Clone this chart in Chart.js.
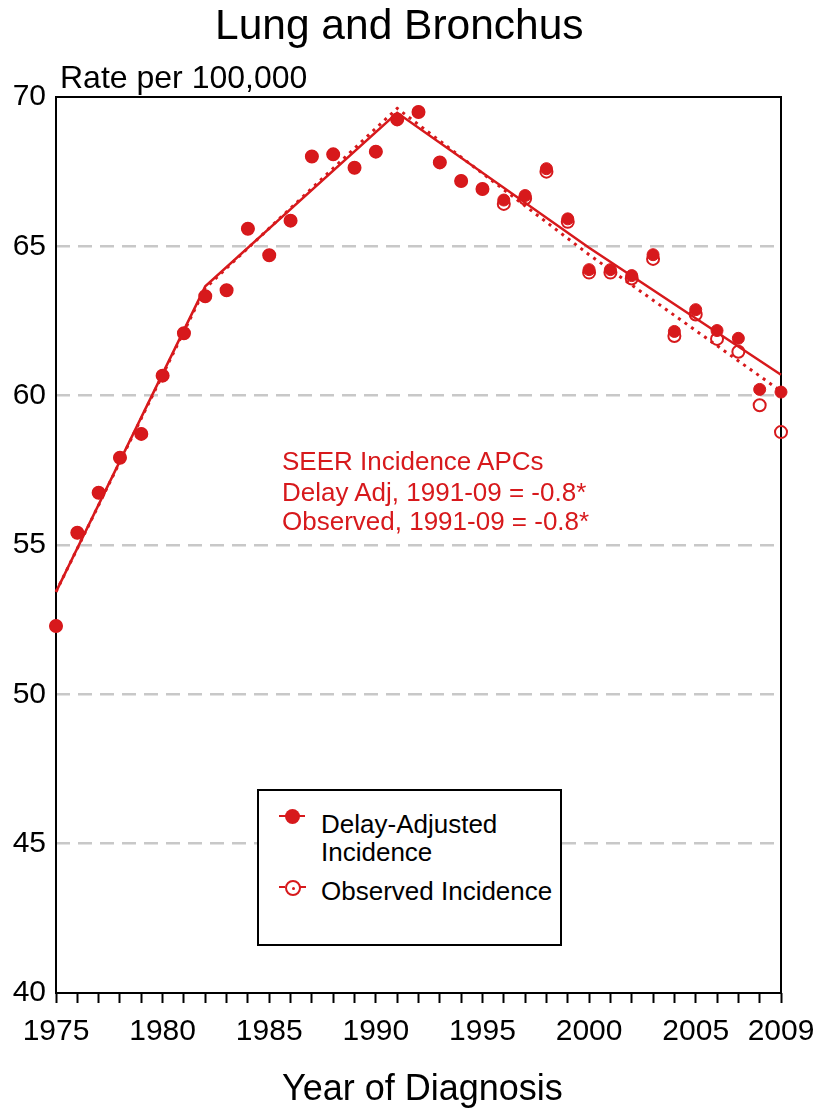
<!DOCTYPE html>
<html>
<head>
<meta charset="utf-8">
<title>Lung and Bronchus</title>
<script src="https://cdn.jsdelivr.net/npm/chart.js@4.4.0/dist/chart.umd.min.js"></script>
<style>
  html, body { margin:0; padding:0; background:#fff; }
  body { font-family:"Liberation Sans", Arial, Helvetica, sans-serif; color:#000; }
  #wrap { position:relative; width:821px; height:1108px; overflow:hidden; }
  #chart { position:absolute; left:0; top:0; }
  .txt { position:absolute; line-height:1; white-space:nowrap; }
  .red { color:#d7191c; }
  #legend { position:absolute; left:257px; top:789px; width:305px; height:157px;
            box-sizing:border-box; border:2px solid #000; background:#fff; }
  .lgline { position:absolute; height:0; border-top:2px solid #d7191c; }
  .lgdash { position:absolute; height:0; border-top:2px dashed #d7191c; }
  .lgdot { position:absolute; border-radius:50%; background:#d7191c; }
  .lgring { position:absolute; border-radius:50%; box-sizing:border-box;
            border:2px solid #d7191c; background:#fff; }
</style>
</head>
<body>
<div id="wrap">
  <canvas id="chart" width="821" height="1108"></canvas>

  <div class="txt" style="left:215px; top:4px; font-size:42.5px;">Lung and Bronchus</div>
  <div class="txt" style="left:60px; top:61px; font-size:32px;">Rate per 100,000</div>
  <div class="txt" style="left:282px; top:1070px; font-size:36px;">Year of Diagnosis</div>

  <div class="txt red" style="left:282px; top:448px; font-size:26px;">SEER Incidence APCs</div>
  <div class="txt red" style="left:282px; top:479px; font-size:26px;">Delay Adj, 1991-09 = -0.8*</div>
  <div class="txt red" style="left:282px; top:508px; font-size:26px;">Observed, 1991-09 = -0.8*</div>

  <div id="legend"></div>
  <div class="lgline" style="left:279px; top:815px; width:26px;"></div>
  <div class="lgdot" style="left:285px; top:809px; width:15px; height:15px;"></div>
  <div class="txt" style="left:321px; top:811px; font-size:26px;">Delay-Adjusted</div>
  <div class="txt" style="left:321px; top:839px; font-size:26px;">Incidence</div>

  <div class="lgdash" style="left:279px; top:886px; width:27px;"></div>
  <div class="lgring" style="left:285px; top:880px; width:16px; height:16px;"></div>
  <div class="lgdot" style="left:291.5px; top:886.5px; width:3px; height:3px;"></div>
  <div class="txt" style="left:321px; top:878px; font-size:26px;">Observed Incidence</div>
</div>

<script>
/***********************
 * DATA
 ***********************/
var YEARS = [1975,1976,1977,1978,1979,1980,1981,1982,1983,1984,1985,1986,1987,1988,1989,1990,1991,1992,
             1993,1994,1995,1996,1997,1998,1999,2000,2001,2002,2003,2004,2005,2006,2007,2008,2009];

var DELAY_ADJUSTED = [52.29,55.41,56.75,57.92,58.72,60.67,62.09,63.33,63.53,65.59,64.70,65.86,68.01,68.08,67.63,68.17,69.25,69.50,
                      67.81,67.19,66.92,66.55,66.70,67.60,65.92,64.22,64.22,64.02,64.72,62.15,62.88,62.18,61.92,60.21,60.12];

var OBSERVED = [52.29,55.41,56.75,57.92,58.72,60.67,62.09,63.33,63.53,65.59,64.70,65.86,68.01,68.08,67.63,68.17,69.25,69.50,
                67.81,67.19,66.92,66.42,66.60,67.50,65.82,64.12,64.12,63.92,64.58,62.00,62.72,61.90,61.47,59.68,58.78];

// joinpoint trend lines
var TREND_YEARS = [1975, 1982, 1991, 2000, 2009];
var DELAY_ADJUSTED_TREND = [53.43, 63.66, 69.47, 64.95, 60.70];
var OBSERVED_TREND = [53.43, 63.60, 69.62, 64.72, 60.15];

var X_LABEL_YEARS = [1975, 1980, 1985, 1990, 1995, 2000, 2005, 2009];
var Y_MIN = 40, Y_MAX = 70, Y_STEP = 5;

var RED = "#d7191c";
var FONT = "'Liberation Sans', Arial, Helvetica, sans-serif";

/***********************
 * HELPERS
 ***********************/
function toPoints(xs, ys){
  var out = [];
  for (var i=0;i<xs.length;i++) out.push({ x: xs[i], y: ys[i] });
  return out;
}

// box round the plot area, under the points
var framePlugin = {
  id: "frame",
  beforeDatasetsDraw: function(chart){
    var a = chart.chartArea, ctx = chart.ctx;
    ctx.save();
    ctx.strokeStyle = "#000";
    ctx.lineWidth = 2;
    ctx.strokeRect(a.left, a.top, a.right - a.left, a.bottom - a.top);
    ctx.restore();
  }
};

/***********************
 * CHART
 ***********************/
var ctx = document.getElementById("chart").getContext("2d");
new Chart(ctx, {
  type: "scatter",
  data: {
    datasets: [
      { // index 0 is drawn last (on top)
        label: "Delay-Adjusted Incidence",
        data: toPoints(YEARS, DELAY_ADJUSTED),
        showLine: false,
        pointRadius: 6,
        pointBorderWidth: 1,
        pointBackgroundColor: RED,
        pointBorderColor: RED,
        clip: false
      },
      {
        label: "Observed Incidence",
        data: toPoints(YEARS, OBSERVED),
        showLine: false,
        pointRadius: 6,
        pointBorderWidth: 2,
        pointBackgroundColor: "rgba(255,255,255,0)",
        pointBorderColor: RED,
        clip: false
      },
      {
        label: "Delay-Adjusted trend",
        data: toPoints(TREND_YEARS, DELAY_ADJUSTED_TREND),
        showLine: true,
        borderColor: RED,
        borderWidth: 2.5,
        pointRadius: 0,
        fill: false,
        tension: 0,
        clip: false
      },
      {
        label: "Observed trend",
        data: toPoints(TREND_YEARS, OBSERVED_TREND),
        showLine: true,
        borderColor: RED,
        borderWidth: 3,
        borderDash: [3, 5],
        pointRadius: 0,
        fill: false,
        tension: 0,
        clip: false
      }
    ]
  },
  options: {
    responsive: false,
    devicePixelRatio: 1,
    animation: false,
    events: [],
    layout: { padding: { top: 97, right: 40, left: 0, bottom: 0 } },
    plugins: {
      legend: { display: false },
      tooltip: { enabled: false },
      title: { display: false }
    },
    scales: {
      x: {
        type: "linear",
        min: 1975, max: 2009,
        offset: false,
        // fixed box; no extra room asked for the end labels
        afterFit: function(s){ s.height = 115; s.paddingLeft = 0; s.paddingRight = 0; },
        border: { display: false },
        grid: {
          display: true,
          drawOnChartArea: false,
          drawTicks: true,
          tickLength: 10,
          tickWidth: 2,
          tickColor: "#000",
          color: "#000"
        },
        ticks: {
          stepSize: 1,
          autoSkip: false,
          maxRotation: 0,
          padding: 11,
          color: "#000",
          font: { family: FONT, size: 30 },
          callback: function(v){ return X_LABEL_YEARS.indexOf(v) >= 0 ? String(v) : ""; }
        }
      },
      y: {
        min: Y_MIN, max: Y_MAX,
        afterFit: function(s){ s.width = 56; },
        border: { display: false, dash: [14, 8] },
        grid: {
          drawTicks: false,
          lineWidth: 2.5,
          color: function(c){
            var v = c.tick ? c.tick.value : null;
            return (v === Y_MIN || v === Y_MAX) ? "rgba(0,0,0,0)" : "#c8c8c8";
          }
        },
        ticks: {
          stepSize: Y_STEP,
          padding: 10,
          color: "#000",
          font: { family: FONT, size: 30 }
        }
      }
    }
  },
  plugins: [framePlugin]
});
</script>
</body>
</html>
